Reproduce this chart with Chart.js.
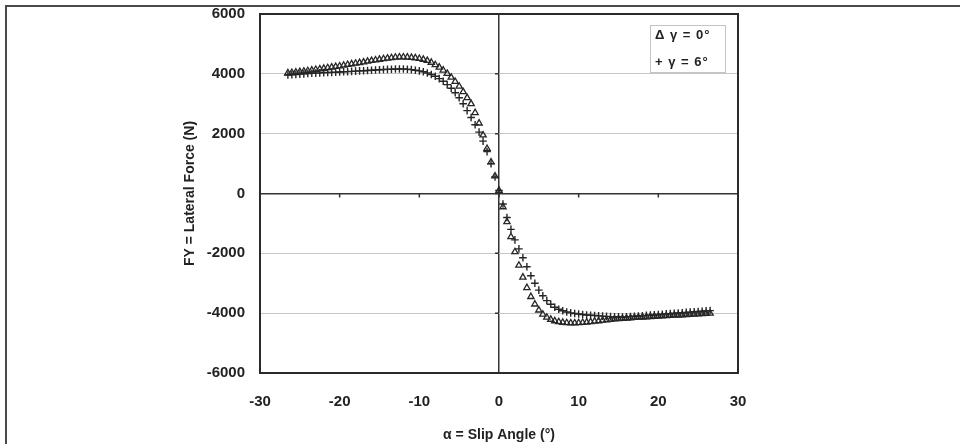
<!DOCTYPE html>
<html>
<head>
<meta charset="utf-8">
<script src="https://cdn.jsdelivr.net/npm/chart.js@4"></script>
<style>
  html, body { margin: 0; padding: 0; background: #fff; }
  #wrap { position: relative; width: 960px; height: 444px; overflow: hidden; }
  #frame { position: absolute; left: 5px; top: 5px; width: 960px; height: 444px;
           border-top: 2px solid #4a4a4a; border-left: 2px solid #4a4a4a; }
  canvas { filter: blur(0.4px); }
  #legend { position: absolute; left: 650px; top: 25px; width: 74px; height: 46px;
            background: #fff; border: 1px solid #c4c4c4;
            font: bold 13px "Liberation Sans", Arial, sans-serif; color: #222;
            letter-spacing: 1px; filter: blur(0.3px); }
  #legend div { position: absolute; left: 4px; white-space: nowrap; line-height: 15px; }
</style>
</head>
<body>
<div id="wrap">
  <div id="frame"></div>
  <canvas id="chart" width="960" height="444"></canvas>
  <div id="legend">
    <div style="top:1px">&Delta; &gamma; = 0&deg;</div>
    <div style="top:28px">+ &gamma; = 6&deg;</div>
  </div>
</div>
<script>
// slip angle sweep (deg), shared by both camber runs
const SLIP = [
  -26.5, -26, -25.5, -25, -24.5, -24, -23.5, -23, -22.5, -22,
  -21.5, -21, -20.5, -20, -19.5, -19, -18.5, -18, -17.5, -17,
  -16.5, -16, -15.5, -15, -14.5, -14, -13.5, -13, -12.5, -12,
  -11.5, -11, -10.5, -10, -9.5, -9, -8.5, -8, -7.5, -7,
  -6.5, -6, -5.5, -5, -4.5, -4, -3.5, -3, -2.5, -2,
  -1.5, -1, -0.5, 0, 0.5, 1, 1.5, 2, 2.5, 3,
  3.5, 4, 4.5, 5, 5.5, 6, 6.5, 7, 7.5, 8,
  8.5, 9, 9.5, 10, 10.5, 11, 11.5, 12, 12.5, 13,
  13.5, 14, 14.5, 15, 15.5, 16, 16.5, 17, 17.5, 18,
  18.5, 19, 19.5, 20, 20.5, 21, 21.5, 22, 22.5, 23,
  23.5, 24, 24.5, 25, 25.5, 26, 26.5,
];

// lateral force (N), camber 0 deg
const FY_CAMBER_0 = [
  4030, 4040, 4055, 4070, 4085, 4100, 4120, 4140, 4160, 4180,
  4200, 4220, 4240, 4260, 4285, 4310, 4330, 4350, 4370, 4390,
  4415, 4440, 4460, 4480, 4500, 4520, 4535, 4550, 4558, 4560,
  4555, 4545, 4530, 4510, 4480, 4440, 4380, 4300, 4220, 4120,
  4010, 3880, 3740, 3580, 3400, 3200, 3000, 2700, 2350, 1950,
  1500, 1050, 580, 100, -450, -950, -1450, -1950, -2400, -2800,
  -3150, -3450, -3700, -3900, -4040, -4140, -4210, -4260, -4290, -4310,
  -4325, -4330, -4330, -4325, -4315, -4305, -4290, -4275, -4260, -4240,
  -4230, -4215, -4200, -4190, -4180, -4170, -4160, -4150, -4142, -4135,
  -4128, -4120, -4112, -4105, -4098, -4090, -4082, -4075, -4068, -4060,
  -4052, -4045, -4038, -4030, -4022, -4015, -4008,
];

// lateral force (N), camber 6 deg
const FY_CAMBER_6 = [
  3960, 3970, 3980, 3990, 4000, 4010, 4018, 4025, 4032, 4040,
  4045, 4050, 4055, 4060, 4068, 4075, 4083, 4090, 4098, 4105,
  4112, 4120, 4128, 4135, 4143, 4150, 4155, 4160, 4162, 4160,
  4152, 4140, 4122, 4100, 4070, 4030, 3980, 3920, 3840, 3750,
  3640, 3520, 3370, 3200, 3000, 2770, 2540, 2300, 2050, 1750,
  1400, 1000, 550, 100, -350, -800, -1200, -1550, -1850, -2150,
  -2450, -2750, -3000, -3230, -3420, -3580, -3700, -3800, -3870, -3920,
  -3960, -3990, -4010, -4030, -4045, -4060, -4070, -4080, -4090, -4100,
  -4108, -4115, -4120, -4125, -4128, -4125, -4115, -4105, -4095, -4085,
  -4075, -4065, -4055, -4045, -4035, -4025, -4015, -4005, -3995, -3985,
  -3975, -3965, -3955, -3945, -3935, -3925, -3915,
];

const X_TICKS = [-30, -20, -10, 0, 10, 20, 30];
const Y_TICKS = [-6000, -4000, -2000, 0, 2000, 4000, 6000];

const INK = "#222";
const FONT = { family: "'Liberation Sans', Arial, sans-serif", size: 14, weight: "bold" };
const TICK_FONT = { family: "'Liberation Sans', Arial, sans-serif", size: 15, weight: "bold" };

function points(ys) {
  return SLIP.map((x, i) => ({ x, y: ys[i] }));
}

// box round the plot, plus the little ticks along the zero axes
const plotFrame = {
  id: "plotFrame",
  afterDatasetsDraw(chart) {
    const { ctx, chartArea: a, scales } = chart;
    const x0 = scales.x.getPixelForValue(0);
    const y0 = scales.y.getPixelForValue(0);
    ctx.save();
    ctx.strokeStyle = "#333";
    ctx.lineWidth = 1.5;
    ctx.beginPath();
    for (const v of X_TICKS) {
      const px = scales.x.getPixelForValue(v);
      ctx.moveTo(px, y0);
      ctx.lineTo(px, y0 + 4);
    }
    for (const v of Y_TICKS) {
      const py = scales.y.getPixelForValue(v);
      ctx.moveTo(x0 - 4, py);
      ctx.lineTo(x0, py);
    }
    ctx.stroke();
    ctx.lineWidth = 2;
    ctx.strokeStyle = "#2a2a2a";
    ctx.strokeRect(a.left, a.top, a.right - a.left, a.bottom - a.top);
    ctx.restore();
  },
};

new Chart(document.getElementById("chart"), {
  type: "scatter",
  data: {
    datasets: [
      {
        label: "γ = 0°",
        data: points(FY_CAMBER_0),
        pointStyle: "triangle",
        pointRadius: 3.6,
        borderColor: "#262626",
        backgroundColor: "rgba(0,0,0,0)",
        borderWidth: 1.3,
      },
      {
        label: "γ = 6°",
        data: points(FY_CAMBER_6),
        pointStyle: "cross",
        pointRadius: 3.8,
        borderColor: "#262626",
        backgroundColor: "rgba(0,0,0,0)",
        borderWidth: 1.4,
      },
    ],
  },
  options: {
    responsive: false,
    animation: false,
    layout: { padding: { left: 182, top: 14, right: 222, bottom: 0 } },
    plugins: { legend: { display: false }, tooltip: { enabled: false } },
    scales: {
      x: {
        type: "linear",
        min: -30,
        max: 30,
        afterBuildTicks: (s) => { s.ticks = X_TICKS.map((value) => ({ value })); },
        afterFit: (s) => { s.height = 71; s.paddingLeft = 0; s.paddingRight = 0; },
        grid: {
          drawTicks: false,
          color: (c) => (c.tick && c.tick.value === 0 ? "#333" : "rgba(0,0,0,0)"),
          lineWidth: 1.5,
        },
        border: { display: false },
        ticks: { color: INK, font: TICK_FONT, padding: 20, maxRotation: 0, callback: (v) => String(v) },
        title: { display: true, text: "α = Slip Angle (°)", color: INK, font: FONT, padding: 0 },
      },
      y: {
        type: "linear",
        min: -6000,
        max: 6000,
        afterBuildTicks: (s) => { s.ticks = Y_TICKS.map((value) => ({ value })); },
        afterFit: (s) => { s.width = 78; s.paddingTop = 0; s.paddingBottom = 0; },
        grid: {
          drawTicks: false,
          color: (c) => (c.tick && c.tick.value === 0 ? "#333" : "#c6c6c6"),
          lineWidth: (c) => (c.tick && c.tick.value === 0 ? 1.5 : 1),
        },
        border: { display: false },
        ticks: { color: INK, font: TICK_FONT, padding: 15, callback: (v) => String(v) },
        title: { display: true, text: "FY = Lateral Force (N)", color: INK, font: FONT, padding: 0 },
      },
    },
  },
  plugins: [plotFrame],
});
</script>
</body>
</html>
